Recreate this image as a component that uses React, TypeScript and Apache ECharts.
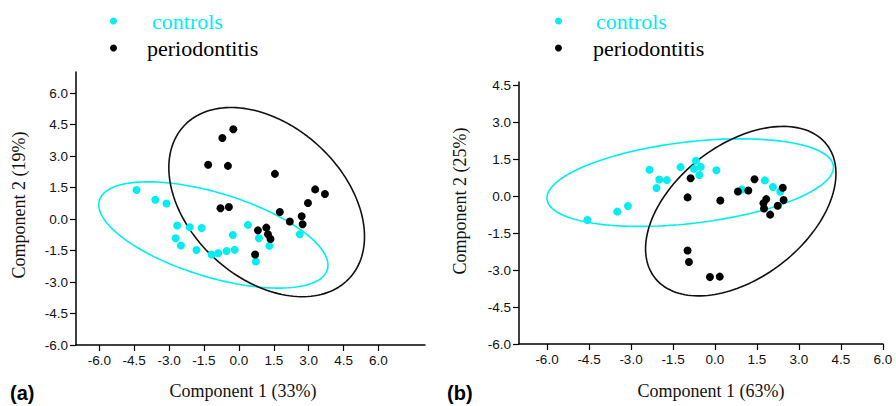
import React, { useEffect, useRef } from "react";
import * as echarts from "echarts";

// ---------- data ----------
const xTicksA = [-6, -4.5, -3, -1.5, 0, 1.5, 3, 4.5, 6];
const yTicksA = [-6, -4.5, -3, -1.5, 0, 1.5, 3, 4.5, 6];
const xTicksB = [-6, -4.5, -3, -1.5, 0, 1.5, 3, 4.5, 6];
const yTicksB = [-6, -4.5, -3, -1.5, 0, 1.5, 3, 4.5];

const controlsA: [number, number][] = [
  [-4.4, 1.38], [-3.59, 0.92], [-3.11, 0.74], [-2.65, -0.31], [-2.11, -0.39],
  [-1.6, -0.43], [-2.72, -0.92], [-2.49, -1.26], [-1.82, -1.48], [-1.17, -1.69],
  [-0.89, -1.63], [-0.53, -1.52], [-0.18, -1.47], [-0.26, -0.76], [0.39, -0.28],
  [0.86, -0.92], [1.31, -1.28], [0.73, -2.02], [2.62, -0.73],
];
const periodontitisA: [number, number][] = [
  [-0.24, 4.27], [-0.71, 3.86], [-1.32, 2.58], [-0.47, 2.53], [1.55, 2.15],
  [3.28, 1.41], [3.7, 1.19], [2.97, 0.76], [-0.79, 0.51], [-0.43, 0.57],
  [1.76, 0.33], [2.7, 0.13], [2.19, -0.12], [2.74, -0.25], [0.82, -0.54],
  [1.18, -0.41], [1.25, -0.73], [1.36, -0.95], [0.7, -1.69],
];
const controlsB: [number, number][] = [
  [-4.56, -0.96], [-3.49, -0.62], [-3.11, -0.39], [-2.34, 1.08], [-1.99, 0.69],
  [-1.72, 0.66], [-2.09, 0.34], [-1.23, 1.19], [-0.68, 1.45], [-0.75, 1.12],
  [-0.51, 1.2], [-0.56, 0.87], [0.05, 1.06], [1.78, 0.65], [2.07, 0.38],
  [2.33, 0.19], [0.96, 0.28],
];
const periodontitisB: [number, number][] = [
  [-0.87, 0.74], [-0.98, -0.04], [0.19, -0.17], [0.82, 0.2], [1.19, 0.24],
  [1.41, 0.7], [1.83, -0.11], [1.73, -0.28], [1.75, -0.49], [1.97, -0.74],
  [2.24, -0.38], [2.42, 0.35], [2.45, -0.15], [-0.98, -2.2], [-0.93, -2.67],
  [-0.18, -3.28], [0.17, -3.26],
];

// ellipse: [centerX, centerY, sdX, sdY, covXY]
const ellipseControlsA = [-1.095, -0.76, 4.925, 2.53, -7.1];
const ellipsePerioA = [1.195, 0.805, 4.205, 4.505, -6.9];
const ellipseControlsB = [-0.885, 0.56, 5.115, 1.78, 3.2];
const ellipsePerioB = [0.92, -0.6, 3.4, 3.445, 5.2];

const CYAN = "#00EEF2";
const BLACK = "#000000";
const SANS = "'Liberation Sans', Arial, sans-serif";
const SERIF = "'Liberation Serif', 'Times New Roman', serif";

function ellipsePoints(e: number[]): [number, number][] {
  const [cx, cy, sx, sy, cov] = e;
  const l21 = cov / sx;
  const l22 = Math.sqrt(Math.max(sy * sy - l21 * l21, 0));
  const pts: [number, number][] = [];
  const n = 160;
  for (let i = 0; i <= n; i++) {
    const t = (i / n) * Math.PI * 2;
    pts.push([cx + sx * Math.cos(t), cy + l21 * Math.cos(t) + l22 * Math.sin(t)]);
  }
  return pts;
}

function axisCommon(ticks: number[]) {
  return {
    type: "value" as const,
    axisLine: { show: true, onZero: false, lineStyle: { color: "#000", width: 1.5 } },
    axisTick: { show: true, length: 6, inside: false, customValues: ticks, lineStyle: { color: "#000", width: 1.2 } },
    axisLabel: {
      customValues: ticks,
      formatter: (v: number) => v.toFixed(1),
      color: "#111",
      fontFamily: SANS,
      fontSize: 13.5,
    },
    splitLine: { show: false },
  };
}

function legendFor(left: number, padC: number, padP: number) {
  return {
    left,
    top: 5,
    orient: "vertical" as const,
    icon: "circle",
    itemWidth: 7,
    itemHeight: 7,
    itemGap: 5,
    selectedMode: false,
    textStyle: { fontFamily: SERIF, fontSize: 22, lineHeight: 22 },
    data: [
      { name: "controls", textStyle: { color: CYAN, padding: [0, 0, 0, padC] } },
      { name: "periodontitis", textStyle: { color: BLACK, padding: [0, 0, 0, padP] } },
    ],
  };
}

export default function App() {
  const ref = useRef<HTMLDivElement>(null);
  useEffect(() => {
    document.body.style.margin = "0";
    if (!ref.current) return;
    const chart = echarts.init(ref.current, undefined, { renderer: "svg" });
    const ellipseSeries = (e: number[], color: string, idx: number, name: string) => ({
      type: "line" as const,
      name,
      xAxisIndex: idx,
      yAxisIndex: idx,
      data: ellipsePoints(e),
      showSymbol: false,
      silent: true,
      smooth: false,
      lineStyle: { color, width: 1.6 },
      z: 1,
    });
    const scatter = (name: string, data: [number, number][], color: string, idx: number, z: number) => ({
      type: "scatter" as const,
      name,
      xAxisIndex: idx,
      yAxisIndex: idx,
      data,
      symbolSize: 8,
      itemStyle: { color, opacity: 1 },
      z,
    });
    chart.setOption({
      animation: false,
      backgroundColor: "#ffffff",
      legend: [legendFor(105, 30, 25), legendFor(550, 29, 26)],
      grid: [
        { left: 76, top: 72, width: 349, height: 273, containLabel: false },
        { left: 519, top: 82, width: 364, height: 262, containLabel: false },
      ],
      xAxis: [
        { ...axisCommon(xTicksA), gridIndex: 0, min: -7, max: 8 },
        { ...axisCommon(xTicksB), gridIndex: 1, min: -7, max: 6 },
      ],
      yAxis: [
        { ...axisCommon(yTicksA), gridIndex: 0, min: -6, max: 7 },
        { ...axisCommon(yTicksB), gridIndex: 1, min: -6, max: 4.65 },
      ],
      series: [
        ellipseSeries(ellipseControlsA, CYAN, 0, "controls ellipse a"),
        ellipseSeries(ellipsePerioA, "#111", 0, "periodontitis ellipse a"),
        scatter("controls", controlsA, CYAN, 0, 2),
        scatter("periodontitis", periodontitisA, BLACK, 0, 3),
        ellipseSeries(ellipseControlsB, CYAN, 1, "controls ellipse b"),
        ellipseSeries(ellipsePerioB, "#111", 1, "periodontitis ellipse b"),
        scatter("controls", controlsB, CYAN, 1, 2),
        scatter("periodontitis", periodontitisB, BLACK, 1, 3),
      ],
      graphic: [
        {
          type: "text", x: 243, y: 391,
          style: { text: "Component 1 (33%)", font: `18px ${SERIF}`, fill: "#111", align: "center", verticalAlign: "middle" },
        },
        {
          type: "text", x: 711, y: 391,
          style: { text: "Component 1 (63%)", font: `18px ${SERIF}`, fill: "#111", align: "center", verticalAlign: "middle" },
        },
        {
          type: "text", x: 19, y: 205, rotation: Math.PI / 2,
          style: { text: "Component 2 (19%)", font: `18px ${SERIF}`, fill: "#111", align: "center", verticalAlign: "middle" },
        },
        {
          type: "text", x: 460, y: 201, rotation: Math.PI / 2,
          style: { text: "Component 2 (25%)", font: `18px ${SERIF}`, fill: "#111", align: "center", verticalAlign: "middle" },
        },
        {
          type: "text", x: 10, y: 393,
          style: { text: "(a)", font: `bold 20px ${SANS}`, fill: "#000", align: "left", verticalAlign: "middle" },
        },
        {
          type: "text", x: 447, y: 393,
          style: { text: "(b)", font: `bold 20px ${SANS}`, fill: "#000", align: "left", verticalAlign: "middle" },
        },
      ],
    });
    return () => chart.dispose();
  }, []);
  return (
    <div
      ref={ref}
      style={{ position: "absolute", left: 0, top: 0, width: 896, height: 406 }}
    />
  );
}
